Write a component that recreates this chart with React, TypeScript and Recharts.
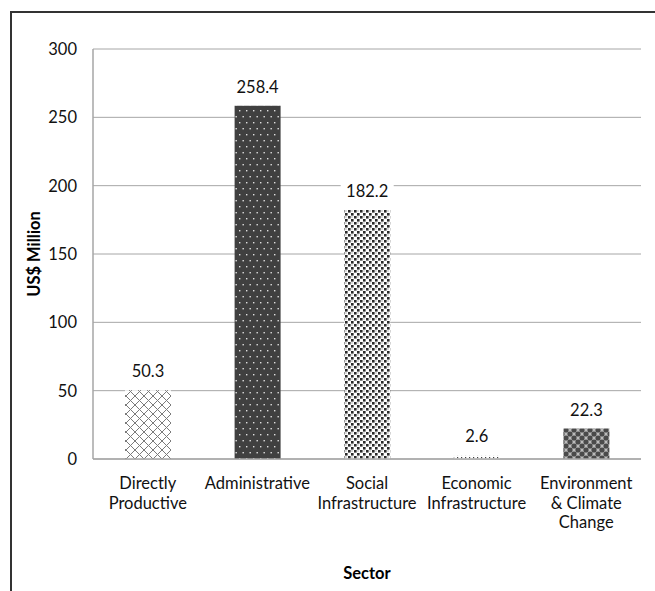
import { BarChart, Bar, XAxis, YAxis, CartesianGrid, Cell, LabelList, Label } from 'recharts'

const sectors = [
  'Directly Productive',
  'Administrative',
  'Social Infrastructure',
  'Economic Infrastructure',
  'Environment & Climate Change',
]
const sectorLines = [
  ['Directly', 'Productive'],
  ['Administrative'],
  ['Social', 'Infrastructure'],
  ['Economic', 'Infrastructure'],
  ['Environment', '& Climate', 'Change'],
]
const amounts = [50.3, 258.4, 182.2, 2.6, 22.3]
const yTicks = [0, 50, 100, 150, 200, 250, 300]
const patternIds = ['pCross', 'pDots', 'pConfetti', 'pSparse', 'pSpheres']

const FONT = 'Lato, "Open Sans", sans-serif'
const FS = 16.5

const data = sectors.map((name, i) => ({ name, value: amounts[i], idx: i }))

const SectorTick = (props: any) => {
  const { x, y, payload } = props
  const lines = sectorLines[payload.index] ?? [payload.value]
  return (
    <text x={x} y={y + 22} textAnchor="middle" fontSize={FS} fill="#111" fontFamily={FONT}>
      {lines.map((l, i) => (
        <tspan key={i} x={x} dy={i === 0 ? 0 : 19.5}>
          {l}
        </tspan>
      ))}
    </text>
  )
}

const ValueLabel = (props: any) => {
  const { x, y, width, value } = props
  const cx = x + width / 2
  const cy = y - 18
  const txt = String(value)
  const w = txt.length * 9 + 8
  return (
    <g>
      <rect x={cx - w / 2} y={cy - 10} width={w} height={20} fill="#fff" />
      <text x={cx} y={cy + 5} textAnchor="middle" fontSize={FS} fill="#111" fontFamily={FONT}>
        {txt}
      </text>
    </g>
  )
}

export default function App() {
  return (
    <div style={{ position: 'fixed', inset: 0, overflow: 'hidden', background: '#fff' }}>
      <div
        style={{
          position: 'absolute',
          left: 10,
          top: 11,
          width: 700,
          height: 700,
          borderLeft: '2px solid #333',
          borderTop: '2px solid #333',
        }}
      />
      <div style={{ position: 'absolute', left: 0, top: 0 }}>
        <BarChart
          width={655}
          height={591}
          data={data}
          margin={{ top: 49, right: 14, left: 0, bottom: 0 }}
          barCategoryGap={0}
        >
          <defs>
            <pattern id="pCross" width={9} height={9} patternUnits="userSpaceOnUse">
              <rect width={9} height={9} fill="#fff" />
              <path d="M0,0 L9,9 M9,0 L0,9" stroke="#7a7a7a" strokeWidth={1} />
            </pattern>
            <pattern id="pDots" width={7} height={12} patternUnits="userSpaceOnUse">
              <rect width={7} height={12} fill="#404040" />
              <rect x={1} y={2} width={1.4} height={1.4} fill="#e0e0e0" />
              <rect x={4.5} y={8} width={1.4} height={1.4} fill="#e0e0e0" />
            </pattern>
            <pattern id="pConfetti" width={6} height={6} patternUnits="userSpaceOnUse">
              <rect width={6} height={6} fill="#fff" />
              <rect x={0} y={0} width={2.6} height={2.6} fill="#2a2a2a" />
              <rect x={3} y={3} width={2.6} height={2.6} fill="#2a2a2a" />
              <rect x={3.5} y={0.5} width={1} height={1} fill="#777" />
            </pattern>
            <pattern id="pSparse" width={4} height={3} patternUnits="userSpaceOnUse">
              <rect width={4} height={3} fill="#fff" />
              <rect x={1} y={1} width={1.2} height={1.2} fill="#444" />
            </pattern>
            <pattern id="pSpheres" width={8} height={8} patternUnits="userSpaceOnUse">
              <rect width={8} height={8} fill="#bbb" />
              <circle cx={2} cy={2} r={2.6} fill="#4a4a4a" />
              <circle cx={6} cy={6} r={2.6} fill="#4a4a4a" />
              <circle cx={6} cy={-2} r={2.6} fill="#4a4a4a" />
              <circle cx={-2} cy={6} r={2.6} fill="#4a4a4a" />
              <circle cx={10} cy={2} r={2.6} fill="#4a4a4a" />
              <circle cx={2} cy={10} r={2.6} fill="#4a4a4a" />
            </pattern>
          </defs>
          <CartesianGrid vertical={false} stroke="#a6a6a6" strokeWidth={1} />
          <XAxis
            dataKey="name"
            height={132}
            interval={0}
            axisLine={{ stroke: '#a6a6a6', strokeWidth: 1.5 }}
            tickLine={false}
            tick={<SectorTick />}
          >
            <Label
              value="Sector"
              position="insideBottom"
              offset={12}
              style={{ fontFamily: FONT, fontSize: FS, fontWeight: 700, fill: '#000' }}
            />
          </XAxis>
          <YAxis
            width={93}
            domain={[0, 300]}
            ticks={yTicks}
            interval={0}
            axisLine={{ stroke: '#a6a6a6', strokeWidth: 1.5 }}
            tickLine={false}
            tickSize={0}
            tickMargin={16}
            tick={{ fontSize: FS, fill: '#111', fontFamily: FONT }}
          >
            <Label
              value="US$ Million"
              angle={-90}
              position="insideLeft"
              offset={34}
              style={{ textAnchor: 'middle', fontFamily: FONT, fontSize: FS, fontWeight: 700, fill: '#000' }}
            />
          </YAxis>
          <Bar dataKey="value" barSize={46} isAnimationActive={false}>
            {data.map((d) => (
              <Cell key={d.name} fill={`url(#${patternIds[d.idx]})`} />
            ))}
            <LabelList dataKey="value" content={<ValueLabel />} />
          </Bar>
        </BarChart>
      </div>
    </div>
  )
}
